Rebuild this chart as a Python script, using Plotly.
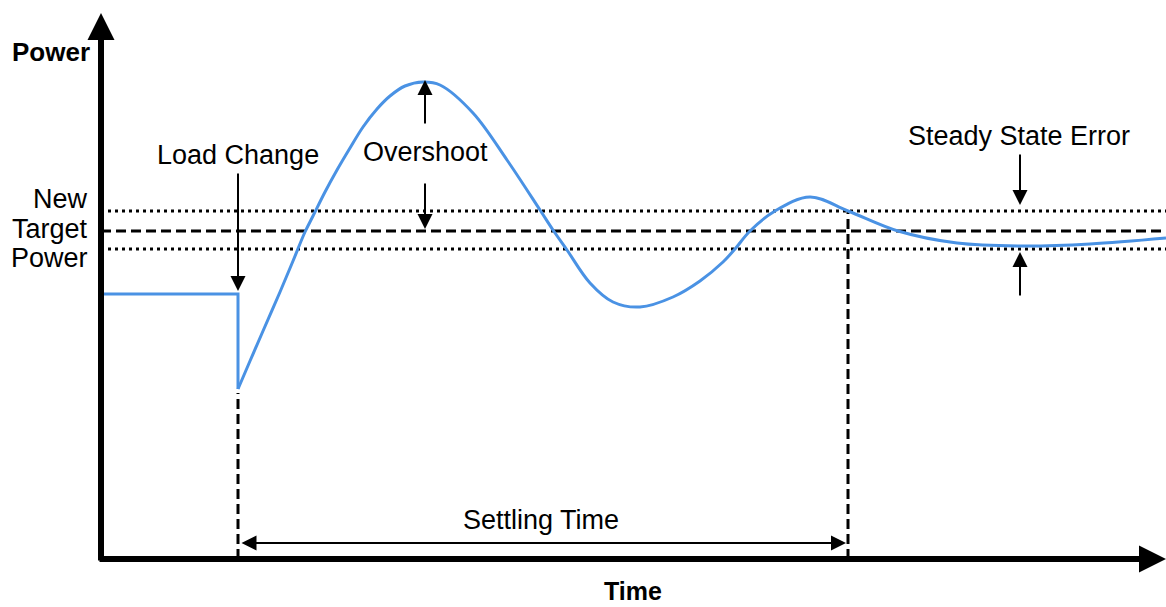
import plotly.graph_objects as go

# ---- data (time t, power p; origin at the axes corner) ----
step_time = [2, 137, 137]
step_power = [265, 265, 170]

response_time = [137, 149, 162, 179, 192, 204, 212, 224, 236, 249, 262, 276, 289, 304, 322,
                 339, 372, 406, 439, 452, 466, 489, 512, 539, 572, 599, 622, 634, 649, 674,
                 709, 747, 797, 856, 922, 989, 1065]
response_power = [170, 198, 228, 267, 298, 327, 343, 367, 389, 411, 432, 450, 463, 473, 477,
                  474, 446, 399, 349, 329, 309, 276, 257, 252, 262, 278, 297, 310, 328, 348,
                  362, 348, 328, 316, 313, 315, 321]

target_power = 328
band_upper = 348
band_lower = 310
load_change_time = 137
settling_time = 747
peak_power = 479
t_end = 1065

FONT = "Liberation Sans, Arial, sans-serif"
BLUE = "#4a92e4"

fig = go.Figure()

# reference levels
fig.add_trace(go.Scatter(x=[0, t_end], y=[band_upper, band_upper], mode="lines",
                         line=dict(color="black", width=3, dash="3px,4px"), hoverinfo="skip"))
fig.add_trace(go.Scatter(x=[0, t_end], y=[band_lower, band_lower], mode="lines",
                         line=dict(color="black", width=3, dash="3px,4px"), hoverinfo="skip"))
fig.add_trace(go.Scatter(x=[0, t_end], y=[target_power, target_power], mode="lines",
                         line=dict(color="black", width=3, dash="10px,5px"), hoverinfo="skip"))
# vertical markers
fig.add_trace(go.Scatter(x=[load_change_time, load_change_time], y=[0, step_power[2] - 4], mode="lines",
                         line=dict(color="black", width=3, dash="10px,5px"), hoverinfo="skip"))
fig.add_trace(go.Scatter(x=[settling_time, settling_time], y=[0, band_upper], mode="lines",
                         line=dict(color="black", width=3, dash="10px,5px"), hoverinfo="skip"))

# power curve
fig.add_trace(go.Scatter(x=step_time, y=step_power, mode="lines",
                         line=dict(color=BLUE, width=3), hoverinfo="skip"))
fig.add_trace(go.Scatter(x=response_time, y=response_power, mode="lines",
                         line=dict(color=BLUE, width=3, shape="spline", smoothing=1.0),
                         hoverinfo="skip"))

ann = []

def arrow(x, y, ax, ay, width=2, size=1.5, side="end"):
    ann.append(dict(x=x, y=y, ax=ax, ay=ay, xref="x", yref="y", axref="x", ayref="y",
                    text="", showarrow=True, arrowhead=2, startarrowhead=2,
                    arrowsize=size, startarrowsize=size, arrowwidth=width,
                    arrowcolor="black", arrowside=side, standoff=0, startstandoff=0))

def label(x, y, text, bold=False, size=27, xanchor="center", yanchor="middle"):
    ann.append(dict(x=x, y=y, xref="x", yref="y", text=f"<b>{text}</b>" if bold else text,
                    showarrow=False, xanchor=xanchor, yanchor=yanchor, borderpad=0,
                    font=dict(family=FONT, size=size, color="black")))

# axes
arrow(0, 546, 0, -3, width=6, size=0.9)
arrow(t_end, 0, -3, 0, width=6, size=0.9)

# annotation arrows
arrow(load_change_time, step_power[0] + 3, load_change_time, 387)
arrow(324, peak_power, 324, 434)
arrow(324, target_power + 2, 324, 377)
arrow(919, band_upper + 6, 919, 406)
arrow(919, band_lower - 3, 919, 262)
arrow(settling_time - 2, 16, load_change_time + 2, 16, side="end+start")

# labels
label(-50, 507, "Power", bold=True, size=26)
label(532, -47, "Time", bold=True, size=25, yanchor="bottom")
label(-12, 360, "New", xanchor="right")
label(-12, 330, "Target", xanchor="right")
label(-12, 301, "Power", xanchor="right")
label(load_change_time, 404, "Load Change")
label(324, 407, "Overshoot")
label(918, 423, "Steady State Error")
label(440, 39, "Settling Time")

fig.update_layout(
    width=1166, height=607,
    margin=dict(l=0, r=0, t=0, b=0),
    paper_bgcolor="white", plot_bgcolor="white",
    showlegend=False,
    xaxis=dict(range=[-101, 1065], visible=False, fixedrange=True),
    yaxis=dict(range=[-48, 559], visible=False, fixedrange=True),
    annotations=ann,
)

fig.write_html("out.html", config={"displayModeBar": False},
               post_script="document.body.style.margin='0';document.body.style.overflow='hidden';")
